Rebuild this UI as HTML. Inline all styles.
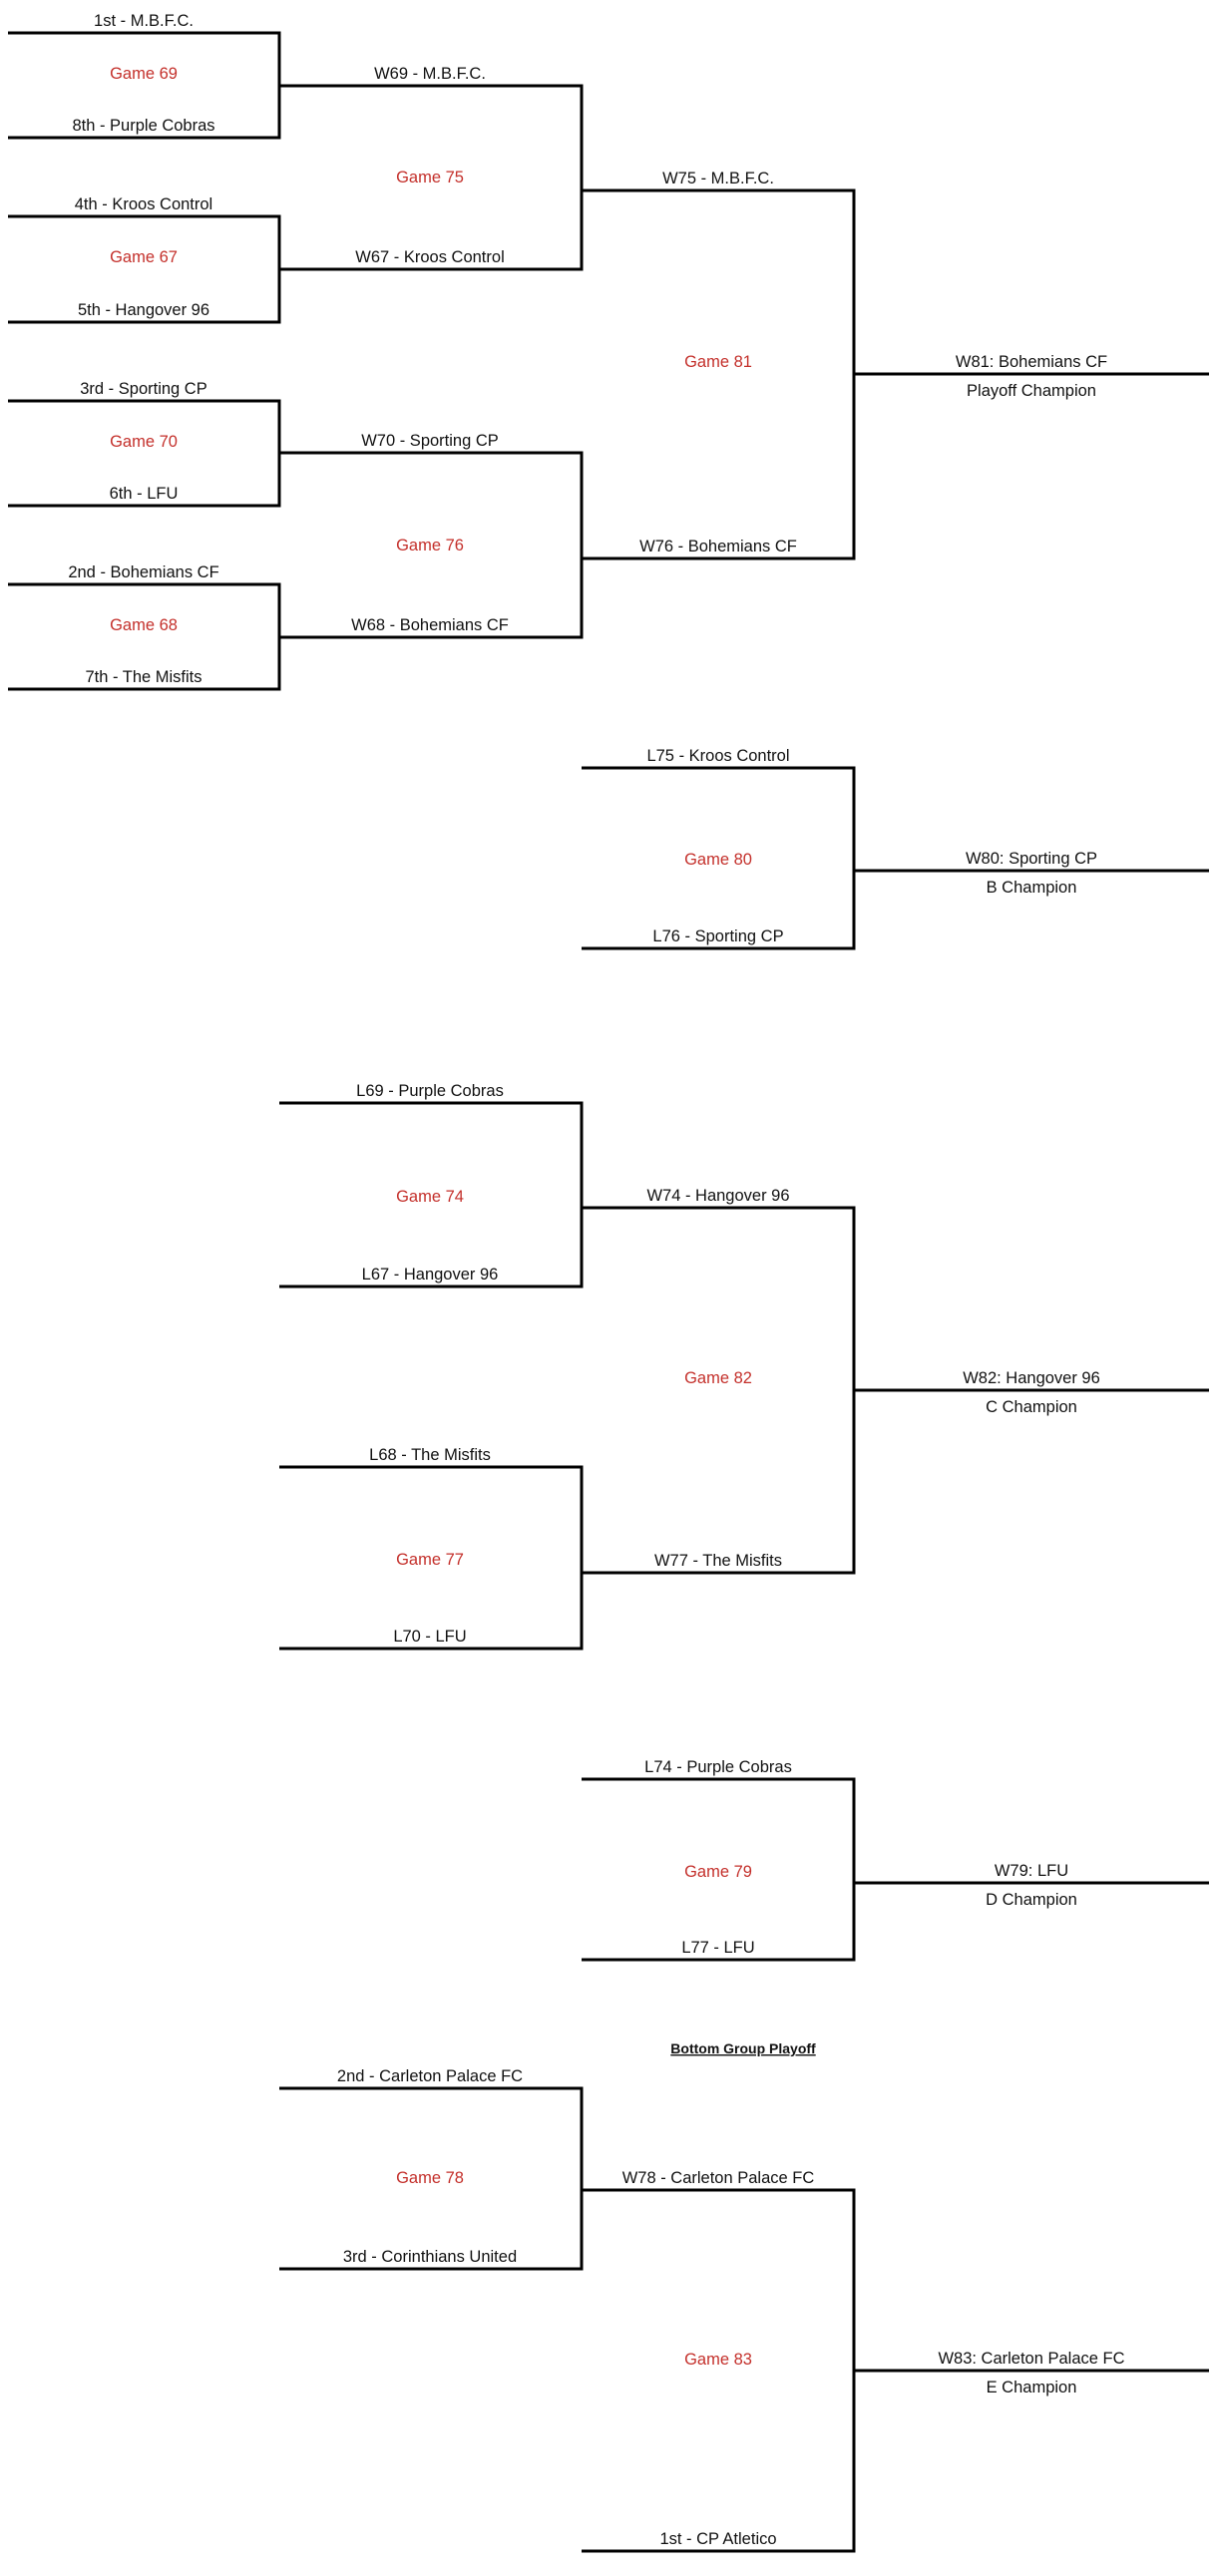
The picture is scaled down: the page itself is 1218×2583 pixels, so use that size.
<!DOCTYPE html>
<html><head><meta charset="utf-8"><style>
html,body{margin:0;padding:0;background:#fff}
svg{display:block}
text{font-family:"Liberation Sans",sans-serif;font-size:16.5px;fill:#111;text-anchor:middle}
.r{fill:#c4302b}
line,path{stroke:#000;stroke-width:3;fill:none}
</style></head><body>
<svg width="1218" height="2583" viewBox="0 0 1218 2583">
<path d="M8 33H280V138H8"/>
<path d="M8 217H280V323H8"/>
<path d="M8 402H280V507H8"/>
<path d="M8 586H280V691H8"/>
<text x="144" y="26">1st - M.B.F.C.</text>
<text class="r" x="144" y="79">Game 69</text>
<text x="144" y="131">8th - Purple Cobras</text>
<text x="144" y="210">4th - Kroos Control</text>
<text class="r" x="144" y="263">Game 67</text>
<text x="144" y="316">5th - Hangover 96</text>
<text x="144" y="395">3rd - Sporting CP</text>
<text class="r" x="144" y="448">Game 70</text>
<text x="144" y="500">6th - LFU</text>
<text x="144" y="579">2nd - Bohemians CF</text>
<text class="r" x="144" y="632">Game 68</text>
<text x="144" y="684">7th - The Misfits</text>
<path d="M280 86H583V270H280"/>
<path d="M280 454H583V639H280"/>
<text x="431" y="79">W69 - M.B.F.C.</text>
<text class="r" x="431" y="183">Game 75</text>
<text x="431" y="263">W67 - Kroos Control</text>
<text x="431" y="447">W70 - Sporting CP</text>
<text class="r" x="431" y="552">Game 76</text>
<text x="431" y="632">W68 - Bohemians CF</text>
<path d="M583 191H856V560H583"/>
<text x="720" y="184">W75 - M.B.F.C.</text>
<text class="r" x="720" y="368">Game 81</text>
<text x="720" y="553">W76 - Bohemians CF</text>
<line x1="856" y1="375" x2="1212" y2="375"/>
<text x="1034" y="368">W81: Bohemians CF</text>
<text x="1034" y="397">Playoff Champion</text>
<path d="M583 770H856V951H583"/>
<line x1="856" y1="873" x2="1212" y2="873"/>
<text x="720" y="763">L75 - Kroos Control</text>
<text class="r" x="720" y="867">Game 80</text>
<text x="720" y="944">L76 - Sporting CP</text>
<text x="1034" y="866">W80: Sporting CP</text>
<text x="1034" y="895">B Champion</text>
<path d="M280 1106H583V1290H280"/>
<path d="M280 1471H583V1653H280"/>
<text x="431" y="1099">L69 - Purple Cobras</text>
<text class="r" x="431" y="1205">Game 74</text>
<text x="431" y="1283">L67 - Hangover 96</text>
<text x="431" y="1464">L68 - The Misfits</text>
<text class="r" x="431" y="1569">Game 77</text>
<text x="431" y="1646">L70 - LFU</text>
<path d="M583 1211H856V1577H583"/>
<text x="720" y="1204">W74 - Hangover 96</text>
<text class="r" x="720" y="1387">Game 82</text>
<text x="720" y="1570">W77 - The Misfits</text>
<line x1="856" y1="1394" x2="1212" y2="1394"/>
<text x="1034" y="1387">W82: Hangover 96</text>
<text x="1034" y="1416">C Champion</text>
<path d="M583 1784H856V1965H583"/>
<line x1="856" y1="1888" x2="1212" y2="1888"/>
<text x="720" y="1777">L74 - Purple Cobras</text>
<text class="r" x="720" y="1882">Game 79</text>
<text x="720" y="1958">L77 - LFU</text>
<text x="1034" y="1881">W79: LFU</text>
<text x="1034" y="1910">D Champion</text>
<text x="745" y="2059" style="font-weight:bold;font-size:14px;text-decoration:underline">Bottom Group Playoff</text>
<path d="M280 2094H583V2275H280"/>
<text x="431" y="2087">2nd - Carleton Palace FC</text>
<text class="r" x="431" y="2189">Game 78</text>
<text x="431" y="2268">3rd - Corinthians United</text>
<path d="M583 2196H856V2558H583"/>
<text x="720" y="2189">W78 - Carleton Palace FC</text>
<text class="r" x="720" y="2371">Game 83</text>
<text x="720" y="2551">1st - CP Atletico</text>
<line x1="856" y1="2377" x2="1212" y2="2377"/>
<text x="1034" y="2370">W83: Carleton Palace FC</text>
<text x="1034" y="2399">E Champion</text>
</svg>
</body></html>
